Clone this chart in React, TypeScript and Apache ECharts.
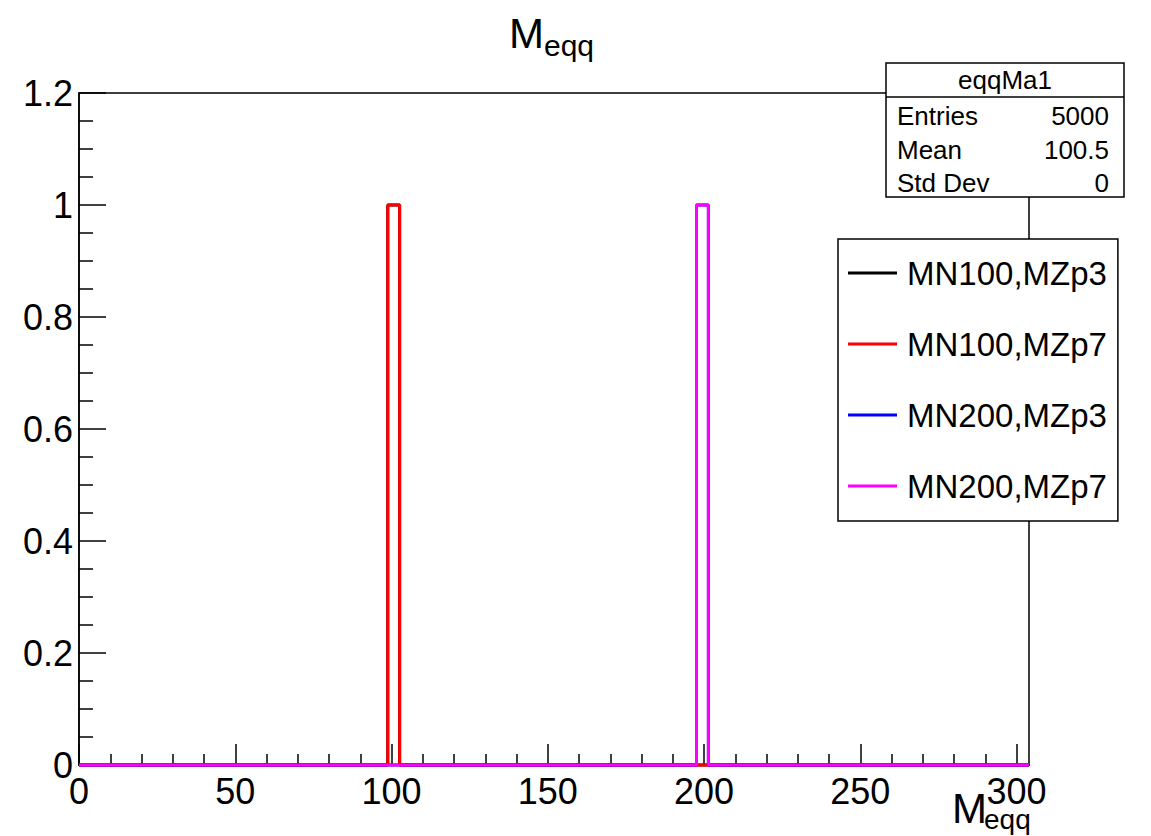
import React, { useEffect, useRef } from "react";
import * as echarts from "echarts";

// Histogram binning (ROOT TH1: 80 bins on [0, 304])
const xMin = 0;
const xMax = 304;
const nBins = 80;

const xMajorTicks = [0, 50, 100, 150, 200, 250, 300];
const xMinorTicks = [10, 20, 30, 40, 60, 70, 80, 90, 110, 120, 130, 140, 160, 170, 180, 190, 210, 220, 230, 240, 260, 270, 280, 290];

const seriesNames = ["MN100,MZp3", "MN100,MZp7", "MN200,MZp3", "MN200,MZp7"];
const seriesColors = ["#000000", "#ff0000", "#0000ff", "#ff00ff"];

// bin contents (normalised), 80 bins each
const mn100MZp3 = [
  0, 0, 0, 0, 0, 0, 0, 0, 0, 0,
  0, 0, 0, 0, 0, 0, 0, 0, 0, 0,
  0, 0, 0, 0, 0, 0, 1, 0, 0, 0,
  0, 0, 0, 0, 0, 0, 0, 0, 0, 0,
  0, 0, 0, 0, 0, 0, 0, 0, 0, 0,
  0, 0, 0, 0, 0, 0, 0, 0, 0, 0,
  0, 0, 0, 0, 0, 0, 0, 0, 0, 0,
  0, 0, 0, 0, 0, 0, 0, 0, 0, 0,
];
const mn100MZp7 = [
  0, 0, 0, 0, 0, 0, 0, 0, 0, 0,
  0, 0, 0, 0, 0, 0, 0, 0, 0, 0,
  0, 0, 0, 0, 0, 0, 1, 0, 0, 0,
  0, 0, 0, 0, 0, 0, 0, 0, 0, 0,
  0, 0, 0, 0, 0, 0, 0, 0, 0, 0,
  0, 0, 0, 0, 0, 0, 0, 0, 0, 0,
  0, 0, 0, 0, 0, 0, 0, 0, 0, 0,
  0, 0, 0, 0, 0, 0, 0, 0, 0, 0,
];
const mn200MZp3 = [
  0, 0, 0, 0, 0, 0, 0, 0, 0, 0,
  0, 0, 0, 0, 0, 0, 0, 0, 0, 0,
  0, 0, 0, 0, 0, 0, 0, 0, 0, 0,
  0, 0, 0, 0, 0, 0, 0, 0, 0, 0,
  0, 0, 0, 0, 0, 0, 0, 0, 0, 0,
  0, 0, 1, 0, 0, 0, 0, 0, 0, 0,
  0, 0, 0, 0, 0, 0, 0, 0, 0, 0,
  0, 0, 0, 0, 0, 0, 0, 0, 0, 0,
];
const mn200MZp7 = [
  0, 0, 0, 0, 0, 0, 0, 0, 0, 0,
  0, 0, 0, 0, 0, 0, 0, 0, 0, 0,
  0, 0, 0, 0, 0, 0, 0, 0, 0, 0,
  0, 0, 0, 0, 0, 0, 0, 0, 0, 0,
  0, 0, 0, 0, 0, 0, 0, 0, 0, 0,
  0, 0, 1, 0, 0, 0, 0, 0, 0, 0,
  0, 0, 0, 0, 0, 0, 0, 0, 0, 0,
  0, 0, 0, 0, 0, 0, 0, 0, 0, 0,
];
const seriesValues = [mn100MZp3, mn100MZp7, mn200MZp3, mn200MZp7];

// stats box
const statsTitle = "eqqMa1";
const statsLabels = ["Entries", "Mean", "Std Dev"];
const statsValues = ["5000", "100.5", "0"];

const FONT = "'Liberation Sans', Arial, Helvetica, sans-serif";

function histOutline(values: number[]): number[][] {
  const w = (xMax - xMin) / nBins;
  const pts: number[][] = [];
  values.forEach((v, i) => {
    pts.push([xMin + i * w, v]);
    pts.push([xMin + (i + 1) * w, v]);
  });
  return pts;
}

export default function App() {
  const ref = useRef<HTMLDivElement>(null);
  useEffect(() => {
    if (!ref.current) return;
    const chart = echarts.init(ref.current, undefined, { renderer: "svg" });

    const statsGraphics: any[] = [
      {
        type: "rect",
        shape: { x: 886, y: 63, width: 238, height: 134 },
        style: { fill: "#fff", stroke: "#000", lineWidth: 1.5 },
        z: 100,
      },
      {
        type: "line",
        shape: { x1: 886, y1: 97, x2: 1124, y2: 97 },
        style: { stroke: "#000", lineWidth: 1.5 },
        z: 101,
      },
      {
        type: "text",
        z: 102,
        style: { text: statsTitle, x: 1005, y: 80, font: `26px ${FONT}`, fill: "#000", align: "center", verticalAlign: "middle" },
      },
    ];
    const rowY = [116, 150, 183];
    statsLabels.forEach((lab, i) => {
      statsGraphics.push({
        type: "text",
        z: 102,
        style: { text: lab, x: 897, y: rowY[i], font: `26px ${FONT}`, fill: "#000", align: "left", verticalAlign: "middle" },
      });
      statsGraphics.push({
        type: "text",
        z: 102,
        style: { text: statsValues[i], x: 1109, y: rowY[i], font: `26px ${FONT}`, fill: "#000", align: "right", verticalAlign: "middle" },
      });
    });

    const option: any = {
      animation: false,
      backgroundColor: "#fff",
      textStyle: { fontFamily: FONT },
      grid: {
        left: 79,
        top: 93,
        right: 122,
        bottom: 71,
        show: true,
        borderColor: "#000",
        borderWidth: 1.5,
        backgroundColor: "transparent",
      },
      legend: {
        orient: "vertical",
        left: 838,
        top: 239,
        data: seriesNames,
        icon: "rect",
        itemWidth: 49,
        itemHeight: 3,
        itemGap: 31,
        padding: [14, 11, 15, 10],
        backgroundColor: "#fff",
        borderColor: "#000",
        borderWidth: 1.5,
        borderRadius: 0,
        selectedMode: false,
        textStyle: { fontSize: 33, color: "#000", fontFamily: FONT, lineHeight: 40, padding: [0, 0, 0, 5] },
        z: 50,
      },
      xAxis: [
        {
          type: "value",
          min: xMin,
          max: xMax,
          interval: 50,
          position: "bottom",
          splitLine: { show: false },
          axisLine: { show: true, lineStyle: { color: "#000", width: 1.5 } },
          axisTick: { show: true, inside: true, length: 21, customValues: xMajorTicks, lineStyle: { color: "#000", width: 1.5 } },
          axisLabel: { customValues: xMajorTicks, fontSize: 36, color: "#000", fontFamily: FONT, margin: 8 },
        },
        {
          type: "value",
          min: xMin,
          max: xMax,
          interval: 10,
          position: "bottom",
          splitLine: { show: false },
          axisLine: { show: false },
          axisTick: { show: true, inside: true, length: 11, customValues: xMinorTicks, lineStyle: { color: "#000", width: 1.5 } },
          axisLabel: { show: false },
        },
      ],
      yAxis: {
        type: "value",
        min: 0,
        max: 1.2,
        interval: 0.2,
        splitLine: { show: false },
        axisLine: { show: true, lineStyle: { color: "#000", width: 1.5 } },
        axisTick: { show: true, inside: true, length: 27, lineStyle: { color: "#000", width: 1.5 } },
        minorTick: { show: true, splitNumber: 4, length: 14, lineStyle: { color: "#000", width: 1.5 } },
        axisLabel: { fontSize: 36, color: "#000", fontFamily: FONT, margin: 6 },
      },
      series: seriesNames.map((name, i) => ({
        name,
        type: "line",
        xAxisIndex: 0,
        data: histOutline(seriesValues[i]),
        symbol: "none",
        showSymbol: false,
        clip: false,
        color: seriesColors[i],
        lineStyle: { color: seriesColors[i], width: 3 },
        z: 3 + i,
      })),
      graphic: [
        // title M_eqq
        { type: "text", z: 10, style: { text: "M", x: 509, y: 33, font: `42px ${FONT}`, fill: "#000", align: "left", verticalAlign: "middle" } },
        { type: "text", z: 10, style: { text: "eqq", x: 544, y: 45, font: `30px ${FONT}`, fill: "#000", align: "left", verticalAlign: "middle" } },
        // x-axis title M_eqq
        { type: "text", z: 10, style: { text: "M", x: 952, y: 808, font: `42px ${FONT}`, fill: "#000", align: "left", verticalAlign: "middle" } },
        { type: "text", z: 10, style: { text: "eqq", x: 984, y: 819, font: `28px ${FONT}`, fill: "#000", align: "left", verticalAlign: "middle" } },
        ...statsGraphics,
      ],
    };
    chart.setOption(option);
    return () => chart.dispose();
  }, []);
  return <div ref={ref} style={{ position: "absolute", left: 0, top: 0, width: 1151, height: 836 }} />;
}
